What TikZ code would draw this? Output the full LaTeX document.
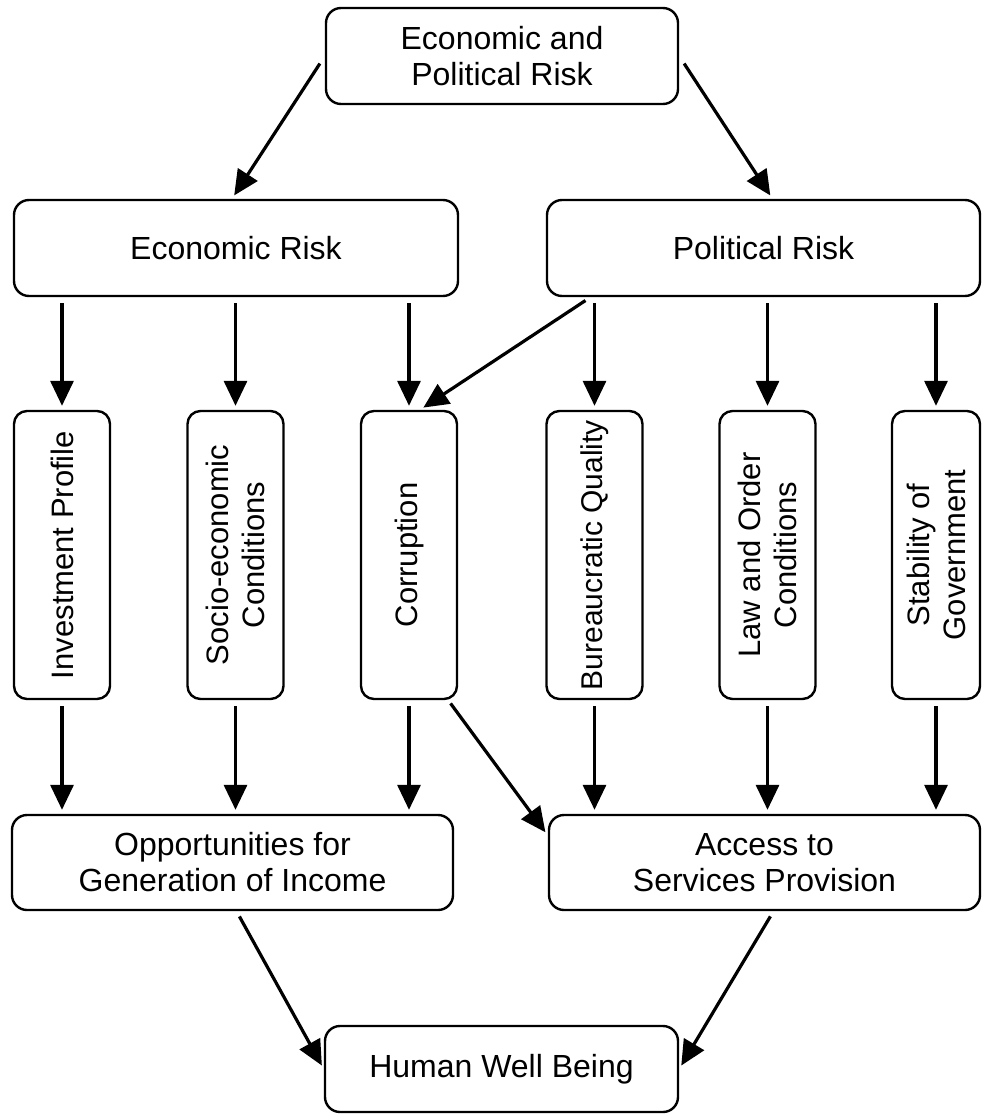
\documentclass[tikz,border=0pt]{standalone}
\usepackage{fontspec}
\setmainfont{Liberation Sans}
\usetikzlibrary{arrows.meta}
\begin{document}
\begin{tikzpicture}[x=1pt,y=-1pt,
  box/.style={draw, line width=2.4pt, rounded corners=15pt, inner sep=0pt, align=center,
    font=\fontsize{32}{36}\selectfont},
  hbox/.style={box, minimum height=96pt},
  vbox/.style={box, minimum width=96pt, minimum height=288pt, rounded corners=13pt},
  vtext/.style={rotate=90, align=center, font=\fontsize{31}{36}\selectfont, inner sep=0pt},
  arr/.style={line width=3.2pt, -{Triangle[length=25pt,width=23pt]}, shorten <=6pt, shorten >=4pt}
]
\useasboundingbox (0,0) rectangle (982,1119);

\node[hbox, minimum width=352pt] (top) at (502,56) {Economic and\\Political Risk};
\node[hbox, minimum width=444pt] (eco) at (236,248) {Economic Risk};
\node[hbox, minimum width=433pt] (pol) at (763.5,248) {Political Risk};

\node[vbox] (inv) at (62,555) {};
\node[vtext] at (inv) {Investment Profile};
\node[vbox] (soc) at (235.5,555) {};
\node[vtext] at (soc) {Socio-economic\\Conditions};
\node[vbox] (cor) at (409,555) {};
\node[vtext] at (cor) {Corruption};
\node[vbox] (bur) at (594.5,555) {};
\node[vtext, font=\fontsize{30}{36}\selectfont] at (bur) {Bureaucratic Quality};
\node[vbox] (law) at (767.5,555) {};
\node[vtext] at (law) {Law and Order\\Conditions};
\node[vbox, minimum width=88pt] (sta) at (936,555) {};
\node[vtext] at (sta) {Stability of\\Government};

\node[hbox, minimum width=441pt, minimum height=95pt] (opp) at (232.5,862.5) {Opportunities for\\Generation of Income};
\node[hbox, minimum width=431pt, minimum height=95pt] (acc) at (764.5,862.5) {Access to\\Services Provision};
\node[hbox, minimum width=353pt, minimum height=86pt] (hwb) at (501.5,1069) {Human Well Being};

\draw[arr, shorten <=9pt] (top.west) -- ([xshift=-4pt]eco.north);
\draw[arr, shorten <=9pt] (top.east) -- ([xshift=9pt]pol.north);

\draw[arr] (eco.south -| inv) -- (inv.north);
\draw[arr] (eco.south -| soc) -- (soc.north);
\draw[arr] (eco.south -| cor) -- (cor.north);
\draw[arr] (pol.south -| bur) -- (bur.north);
\draw[arr] (pol.south -| law) -- (law.north);
\draw[arr] (pol.south -| sta) -- (sta.north);
\draw[arr] ([xshift=-4pt]pol.south -| bur) -- ([xshift=11pt]cor.north);

\draw[arr] (inv.south) -- (opp.north -| inv);
\draw[arr] (soc.south) -- (opp.north -| soc);
\draw[arr] (cor.south) -- (opp.north -| cor);
\draw[arr] (bur.south) -- (acc.north -| bur);
\draw[arr] (law.south) -- (acc.north -| law);
\draw[arr] (sta.south) -- (acc.north -| sta);
\draw[arr, shorten <=4pt] ([xshift=-10pt]cor.south east) -- ([yshift=27pt]acc.west);

\draw[arr] ([xshift=4pt]opp.south) -- (hwb.west);
\draw[arr] ([xshift=9pt]acc.south) -- (hwb.east);
\end{tikzpicture}
\end{document}
